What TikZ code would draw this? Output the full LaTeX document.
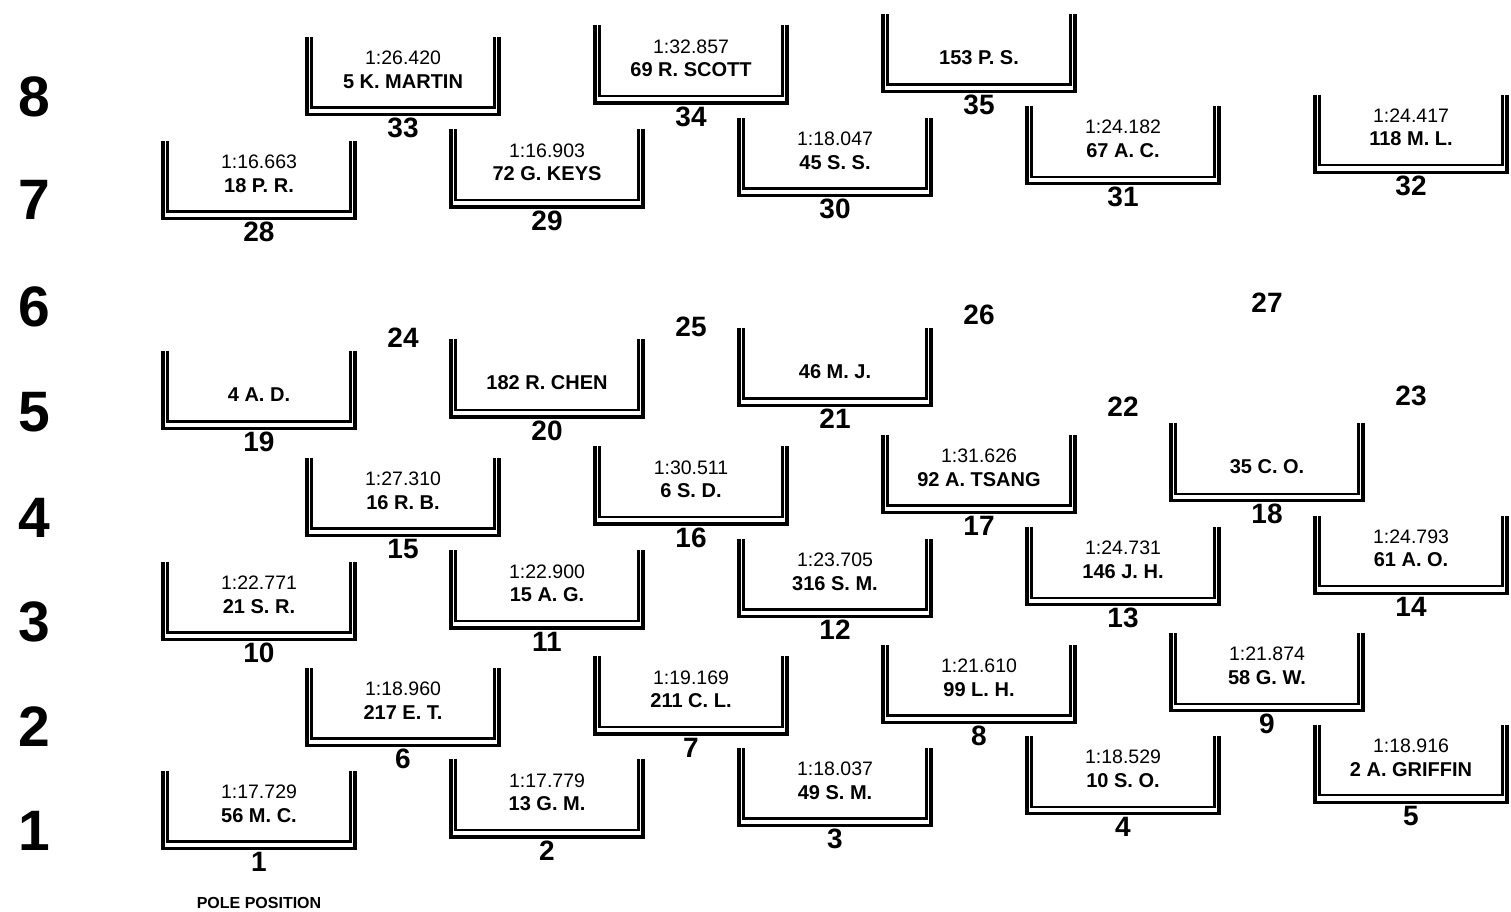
\documentclass[tikz,border=0pt]{standalone}
\usepackage{fontspec}
\setmainfont{Liberation Sans}
\usepackage{tikz}

\begin{document}
\begin{tikzpicture}[x=1pt,y=-1pt]
  \tikzstyle{gridnum}=[font=\fontsize{28}{28}\selectfont\bfseries,inner sep=0pt]
  \tikzstyle{rownum}=[font=\fontsize{57}{57}\selectfont\bfseries,inner sep=0pt]
  \tikzstyle{laptime}=[font=\fontsize{19.5}{20}\selectfont,inner sep=0pt]
  \tikzstyle{driver}=[font=\fontsize{20}{20}\selectfont\bfseries,inner sep=0pt]
  \tikzstyle{polelabel}=[font=\fontsize{16}{16}\selectfont\bfseries,inner sep=0pt]
  \tikzstyle{outerline}=[line width=3.2pt]
  \tikzstyle{innerline}=[line width=2.4pt]

  \useasboundingbox (0,0) rectangle (1511,911);

  \node[rownum] (r1) at (34,831) {1};
  \node[rownum] (r2) at (34,727) {2};
  \node[rownum] (r3) at (34,622) {3};
  \node[rownum] (r4) at (34,518) {4};
  \node[rownum] (r5) at (34,412) {5};
  \node[rownum] (r6) at (34,307) {6};
  \node[rownum] (r7) at (34,200) {7};
  \node[rownum] (r8) at (34,97) {8};

  \node[gridnum] (p1) at (259,862) {1};
  \node[gridnum] (p2) at (547,850.4) {2};
  \node[gridnum] (p3) at (835,838.8) {3};
  \node[gridnum] (p4) at (1123,827.2) {4};
  \node[gridnum] (p5) at (1411,815.6) {5};
  \node[gridnum] (p6) at (403,759) {6};
  \node[gridnum] (p7) at (691,747.4) {7};
  \node[gridnum] (p8) at (979,735.8) {8};
  \node[gridnum] (p9) at (1267,724.2) {9};
  \node[gridnum] (p10) at (259,653) {10};
  \node[gridnum] (p11) at (547,641.4) {11};
  \node[gridnum] (p12) at (835,629.8) {12};
  \node[gridnum] (p13) at (1123,618.2) {13};
  \node[gridnum] (p14) at (1411,606.6) {14};
  \node[gridnum] (p15) at (403,549) {15};
  \node[gridnum] (p16) at (691,537.4) {16};
  \node[gridnum] (p17) at (979,525.8) {17};
  \node[gridnum] (p18) at (1267,514.2) {18};
  \node[gridnum] (p19) at (259,442) {19};
  \node[gridnum] (p20) at (547,430.4) {20};
  \node[gridnum] (p21) at (835,418.8) {21};
  \node[gridnum] (p22) at (1123,407.2) {22};
  \node[gridnum] (p23) at (1411,395.6) {23};
  \node[gridnum] (p24) at (403,338) {24};
  \node[gridnum] (p25) at (691,326.4) {25};
  \node[gridnum] (p26) at (979,314.8) {26};
  \node[gridnum] (p27) at (1267,303.2) {27};
  \node[gridnum] (p28) at (259,232) {28};
  \node[gridnum] (p29) at (547,220.4) {29};
  \node[gridnum] (p30) at (835,208.8) {30};
  \node[gridnum] (p31) at (1123,197.2) {31};
  \node[gridnum] (p32) at (1411,185.6) {32};
  \node[gridnum] (p33) at (403,128) {33};
  \node[gridnum] (p34) at (691,116.4) {34};
  \node[gridnum] (p35) at (979,104.8) {35};

  \node[polelabel] (pole) at (259,903) {POLE POSITION};

  \foreach \p/\tm/\drv in {1/1:17.729/56 M. C., 2/1:17.779/13 G. M., 3/1:18.037/49 S. M.,
      4/1:18.529/10 S. O., 5/1:18.916/2 A. GRIFFIN, 6/1:18.960/217 E. T., 7/1:19.169/211 C. L.,
      8/1:21.610/99 L. H., 9/1:21.874/58 G. W., 10/1:22.771/21 S. R., 11/1:22.900/15 A. G.,
      12/1:23.705/316 S. M., 13/1:24.731/146 J. H., 14/1:24.793/61 A. O., 15/1:27.310/16 R. B.,
      16/1:30.511/6 S. D., 17/1:31.626/92 A. TSANG, 28/1:16.663/18 P. R., 29/1:16.903/72 G. KEYS,
      30/1:18.047/45 S. S., 31/1:24.182/67 A. C., 32/1:24.417/118 M. L., 33/1:26.420/5 K. MARTIN,
      34/1:32.857/69 R. SCOTT}
  {
    \draw[outerline] ([shift={(-96,-91)}]p\p.center) |- ([shift={(0,-13.5)}]p\p.center) -| ([shift={(96,-91)}]p\p.center);
    \draw[innerline] ([shift={(-91.5,-91)}]p\p.center) |- ([shift={(0,-20.5)}]p\p.center) -| ([shift={(91.5,-91)}]p\p.center);
    \node[laptime] (t\p) at ([shift={(0,-70)}]p\p.center) {\tm};
    \node[driver] (d\p) at ([shift={(0,-46.5)}]p\p.center) {\drv};
  }

  \foreach \p/\drv in {18/35 C. O., 19/4 A. D., 20/182 R. CHEN, 21/46 M. J., 35/153 P. S.}
  {
    \draw[outerline] ([shift={(-96,-91)}]p\p.center) |- ([shift={(0,-13.5)}]p\p.center) -| ([shift={(96,-91)}]p\p.center);
    \draw[innerline] ([shift={(-91.5,-91)}]p\p.center) |- ([shift={(0,-20.5)}]p\p.center) -| ([shift={(91.5,-91)}]p\p.center);
    \node[driver] (d\p) at ([shift={(0,-47.5)}]p\p.center) {\drv};
  }

\end{tikzpicture}
\end{document}
